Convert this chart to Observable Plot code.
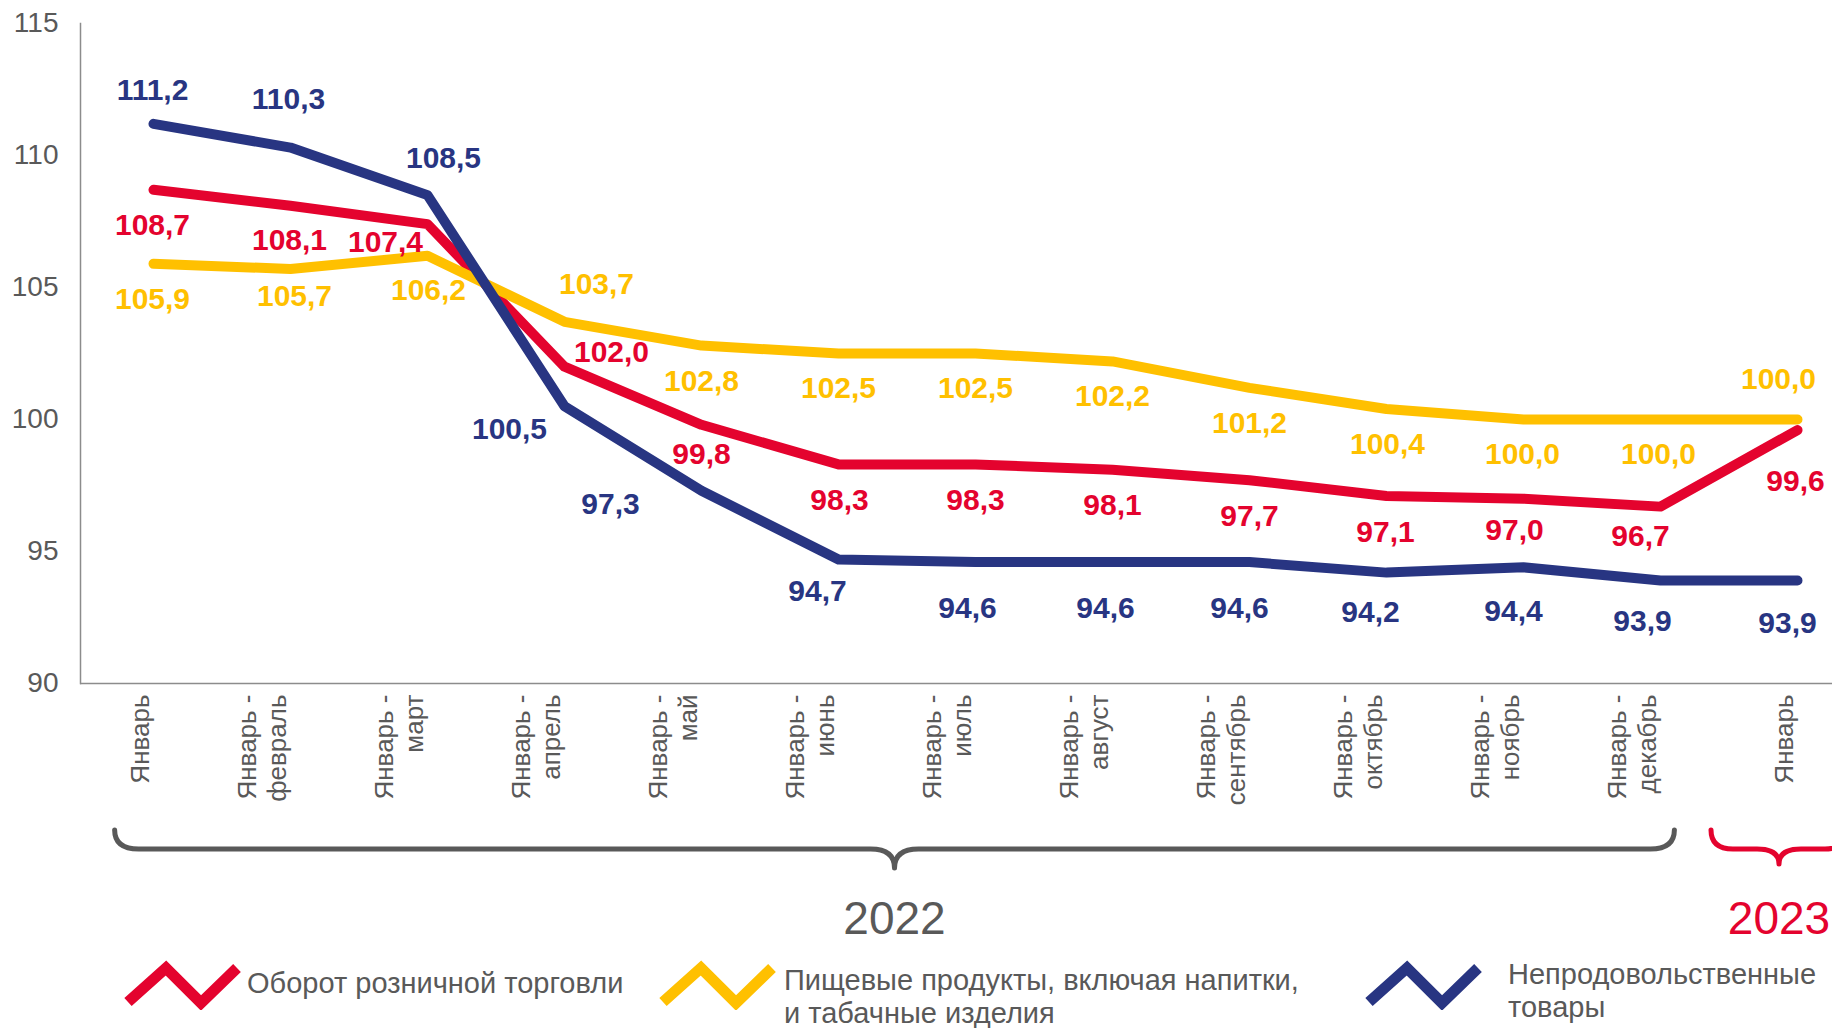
<!DOCTYPE html>
<html>
<head>
<meta charset="utf-8">
<script src="https://cdn.jsdelivr.net/npm/d3@7"></script>
<script src="https://cdn.jsdelivr.net/npm/@observablehq/plot@0.6"></script>
<style>
  html, body { margin: 0; padding: 0; background: #fff; }
  body { font-family: "Liberation Sans", Arial, sans-serif; }
  #wrap { position: relative; width: 1832px; height: 1028px; overflow: hidden; background: #fff; }
  #chart { position: absolute; left: 0; top: 0; }
  #overlay { position: absolute; left: 0; top: 0; pointer-events: none; }
  .leg-text { position: absolute; font-size: 29px; color: #595959; line-height: 33px; white-space: nowrap; }
</style>
</head>
<body>
<div id="wrap">
  <div id="chart"></div>
  <svg id="overlay" width="1832" height="1028"></svg>
  <div id="legend"></div>
</div>
<script>
// ---------- DATA ----------
const categories = ["2022-01", "2022-02", "2022-03", "2022-04", "2022-05", "2022-06", "2022-07",
  "2022-08", "2022-09", "2022-10", "2022-11", "2022-12", "2023-01"];
const tickLabels = ["Январь", "Январь -\nфевраль", "Январь -\nмарт", "Январь -\nапрель", "Январь -\nмай",
  "Январь -\nиюнь", "Январь -\nиюль", "Январь -\nавгуст", "Январь -\nсентябрь", "Январь -\nоктябрь",
  "Январь -\nноябрь", "Январь -\nдекабрь", "Январь"];
const retail  = [108.7, 108.1, 107.4, 102.0, 99.8, 98.3, 98.3, 98.1, 97.7, 97.1, 97.0, 96.7, 99.6];
const food    = [105.9, 105.7, 106.2, 103.7, 102.8, 102.5, 102.5, 102.2, 101.2, 100.4, 100.0, 100.0, 100.0];
const nonfood = [111.2, 110.3, 108.5, 100.5, 97.3, 94.7, 94.6, 94.6, 94.6, 94.2, 94.4, 93.9, 93.9];
const seriesNames = ["Оборот розничной торговли", "Пищевые продукты, включая напитки,\nи табачные изделия", "Непродовольственные\nтовары"];
const yTicks = [90, 95, 100, 105, 110, 115];
const years = ["2022", "2023"];

// ---------- STYLE ----------
const colors = ["#E4032E", "#FFC000", "#283582"];
const gray = "#595959";
// label offsets (dx, dy) in px relative to each point, per series
const labelOffsets = [
  [[-1,36],[-1,35],[-42,18],[47,-14],[0,30],[1,36],[0,36],[0,36],[0,36],[-1,36],[-9,32],[-20,30],[-2,51]],
  [[-1,36],[4,27],[1,35],[32,-37],[0,36],[0,35],[0,35],[0,35],[0,36],[1,35],[-1,35],[-2,35],[-19,-40]],
  [[-1,-33],[-2,-48],[16,-37],[-55,23],[-91,14],[-21,32],[-8,46],[-7,46],[-10,46],[-16,40],[-10,44],[-18,41],[-10,43]]
];

const seriesValues = [retail, food, nonfood];
const rows = seriesValues.flatMap((vals, si) => vals.map((v, i) => ({cat: categories[i], v, si, i})));
const fmt = v => v.toFixed(1).replace(".", ",");
const labelOf = new Map(categories.map((c, i) => [c, tickLabels[i]]));

const lineMarks = [0, 1, 2].map(si => Plot.lineY(rows.filter(r => r.si === si), {
  x: "cat", y: "v", stroke: colors[si], strokeWidth: 10,
  strokeLinecap: "round", strokeLinejoin: "round"
}));
const textMarks = rows.map(r => Plot.text([r], {
  x: "cat", y: "v", text: d => fmt(d.v),
  dx: labelOffsets[r.si][r.i][0], dy: labelOffsets[r.si][r.i][1],
  fill: colors[r.si], fontSize: 30, fontWeight: "bold"
}));

const plot = Plot.plot({
  width: 1832,
  height: 940,
  marginLeft: 80,
  marginRight: 0,
  marginTop: 23,
  marginBottom: 257,
  style: {fontFamily: '"Liberation Sans", Arial, sans-serif', background: "transparent", overflow: "visible"},
  x: {type: "point", domain: categories, range: [150, 1800], padding: 0},
  y: {domain: [90, 115]},
  marks: [
    Plot.axisY({ticks: yTicks, tickSize: 0, tickPadding: 22, fontSize: 28, fill: gray, label: null}),
    Plot.axisX({tickSize: 0, tickRotate: -90, tickPadding: 11, dx: -5, textAnchor: "end", lineAnchor: "bottom",
      fontSize: 26, lineHeight: 1.12, fill: gray, label: null, tickFormat: c => labelOf.get(c)}),
    Plot.ruleY([90], {stroke: "#8c8c8c", strokeWidth: 1.5}),
    Plot.frame({anchor: "left", stroke: "#8c8c8c", strokeWidth: 1.5}),
    ...lineMarks,
    ...textMarks
  ]
});
document.getElementById("chart").appendChild(plot);

// ---------- BRACES + YEARS (overlay, positioned via the plot's x scale) ----------
const xs = plot.scale("x");
const X = c => xs.apply(c);
const step = X(categories[1]) - X(categories[0]);
const ov = d3.select("#overlay");
function brace(left, right, mid, top, line, tip, r, color) {
  const p = `M${left},${top} Q${left},${line} ${left + r},${line} L${mid - r},${line} Q${mid},${line} ${mid},${tip}` +
            ` M${mid},${tip} Q${mid},${line} ${mid + r},${line} L${right - r},${line} Q${right},${line} ${right},${top}`;
  ov.append("path").attr("d", p).attr("fill", "none").attr("stroke", color)
    .attr("stroke-width", 5).attr("stroke-linecap", "round");
}
const l22 = X(categories[0]) - 0.28 * step, r22 = X(categories[11]) + 0.105 * step;
const m22 = (l22 + r22) / 2;
brace(l22, r22, m22, 830, 849, 868, 24, gray);
const m23 = X(categories[12]) - 18;
brace(m23 - 68, m23 + 68, m23, 830, 849, 864, 22, colors[0]);
ov.append("text").attr("x", m22).attr("y", 918).attr("dy", "0.35em").attr("text-anchor", "middle")
  .attr("font-size", 46).attr("fill", gray).attr("font-family", '"Liberation Sans", Arial, sans-serif').text(years[0]);
ov.append("text").attr("x", m23).attr("y", 918).attr("dy", "0.35em").attr("text-anchor", "middle")
  .attr("font-size", 46).attr("fill", colors[0]).attr("font-family", '"Liberation Sans", Arial, sans-serif').text(years[1]);

// ---------- LEGEND ----------
const legendLayout = [
  {iconX: 125, textX: 247, textTop: 967},
  {iconX: 660, textX: 784, textTop: 964},
  {iconX: 1366, textX: 1508, textTop: 958}
];
const legend = document.getElementById("legend");
seriesNames.forEach((name, si) => {
  const L = legendLayout[si];
  const icon = document.createElementNS("http://www.w3.org/2000/svg", "svg");
  icon.setAttribute("width", 118); icon.setAttribute("height", 50);
  icon.style.position = "absolute"; icon.style.left = (L.iconX - 2) + "px"; icon.style.top = "960px";
  const path = document.createElementNS("http://www.w3.org/2000/svg", "path");
  path.setAttribute("d", "M5,42 L43,8 L78,43 L114,8");
  path.setAttribute("fill", "none"); path.setAttribute("stroke", colors[si]);
  path.setAttribute("stroke-width", 11); path.setAttribute("stroke-linejoin", "miter");
  icon.appendChild(path);
  legend.appendChild(icon);
  const t = document.createElement("div");
  t.className = "leg-text";
  t.style.left = L.textX + "px"; t.style.top = L.textTop + "px";
  t.innerHTML = name.split("\n").join("<br>");
  legend.appendChild(t);
});
</script>
</body>
</html>
